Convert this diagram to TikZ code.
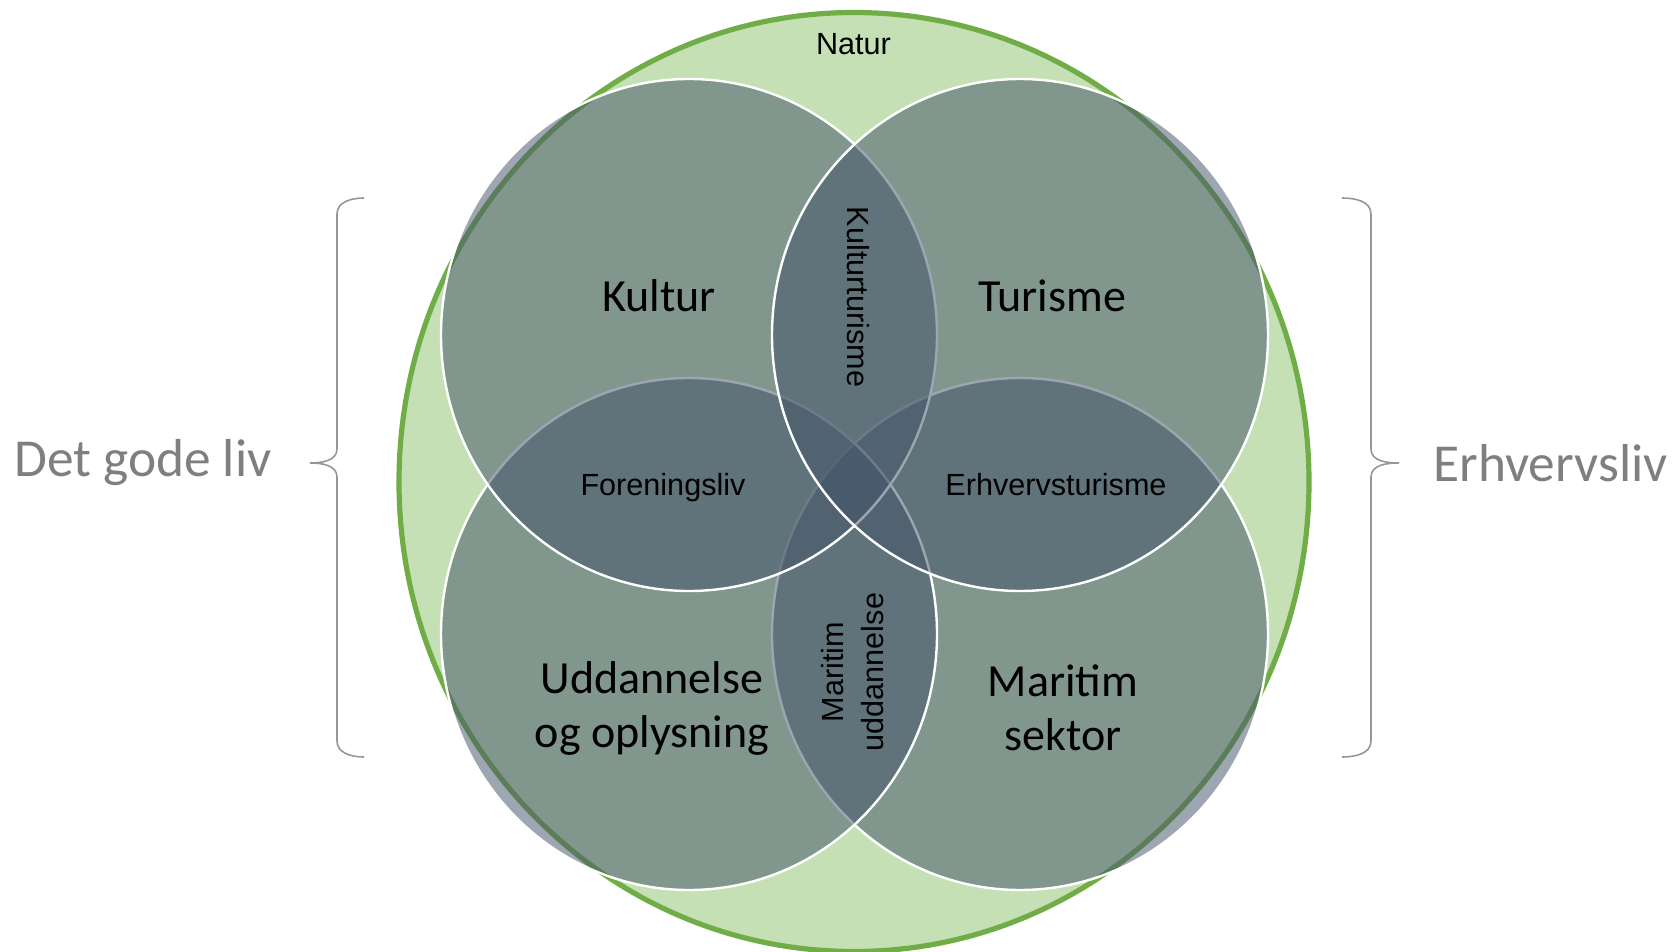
\documentclass[tikz,border=0pt]{standalone}
\usepackage{fontspec}
\setmainfont{Carlito}
\newfontfamily\arialfont{Liberation Sans}
\usetikzlibrary{positioning}
\definecolor{naturgreen}{RGB}{197,224,180}
\definecolor{naturline}{RGB}{112,173,71}
\definecolor{slate}{RGB}{68,84,106}
\definecolor{sidegray}{RGB}{127,127,127}
\definecolor{bracegray}{RGB}{150,150,150}

\begin{document}
\begin{tikzpicture}[x=0.5pt, y=-0.5pt,
    area/.style={fill=slate, fill opacity=0.52, draw=white, line width=1.2pt},
    biglabel/.style={font=\fontsize{23}{27}\selectfont, align=center},
    smalllabel/.style={font=\arialfont\fontsize{15.3}{20}\selectfont, align=center},
    sidelabel/.style={font=\fontsize{26.7}{30}\selectfont, text=sidegray, inner sep=0pt},
    bracket/.style={draw=bracegray, line width=0.8pt}]
    \useasboundingbox (0,0) rectangle (1677,952);
    \def\RX{248}
    \def\RY{256}
    % Natur
    \draw[fill=naturgreen, draw=naturline, line width=2.6pt]
      (854,482) ellipse [x radius=455, y radius=469.5];
    % the four fields, in this order so the white rims come out right
    \path[area] (1020,634) ellipse [x radius=\RX, y radius=\RY];
    \path[area] (689,634) ellipse [x radius=\RX, y radius=\RY];
    \path[area] (689,335) ellipse [x radius=\RX, y radius=\RY];
    \path[area] (1020,335) ellipse [x radius=\RX, y radius=\RY];

    \node[smalllabel, anchor=base] (natur) at (853.5,55) {Natur};
    \node[biglabel, anchor=base] (kultur) at (659,312) {Kultur};
    \node[biglabel, anchor=base] (turisme) at (1052,312) {Turisme};
    \node[biglabel] (uddannelse) at (652,708) {Uddannelse\\og oplysning};
    \node[biglabel] (maritim) at (1063,708) {Maritim\\sektor};
    \node[smalllabel, rotate=-90] (kulturturisme) at (858,297) {Kulturturisme};
    \node[smalllabel, anchor=base] (forening) at (663,495) {Foreningsliv};
    \node[smalllabel, anchor=base] (erhvturisme) at (1056,495) {Erhvervsturisme};
    \node[smalllabel, rotate=90] (maritimudd) at (853,672) {Maritim\\uddannelse};

    % brackets
    \coordinate (lefttip) at (310,463);
    \coordinate (righttip) at (1399,463);
    \draw[bracket] (364,198) to[out=180,in=90] (337,214) -- (337,449)
      to[out=-90,in=0] (lefttip) to[out=0,in=90] (337,477) -- (337,741)
      to[out=-90,in=180] (364,757);
    \draw[bracket] (1342,198) to[out=0,in=90] (1371,214) -- (1371,449)
      to[out=-90,in=180] (righttip) to[out=180,in=90] (1371,477) -- (1371,741)
      to[out=-90,in=0] (1342,757);
    \node[sidelabel, left=19pt of lefttip] (godeliv) {Det gode liv};
    \node[sidelabel, right=17pt of righttip] (erhverv) {Erhvervsliv};
\end{tikzpicture}
\end{document}
